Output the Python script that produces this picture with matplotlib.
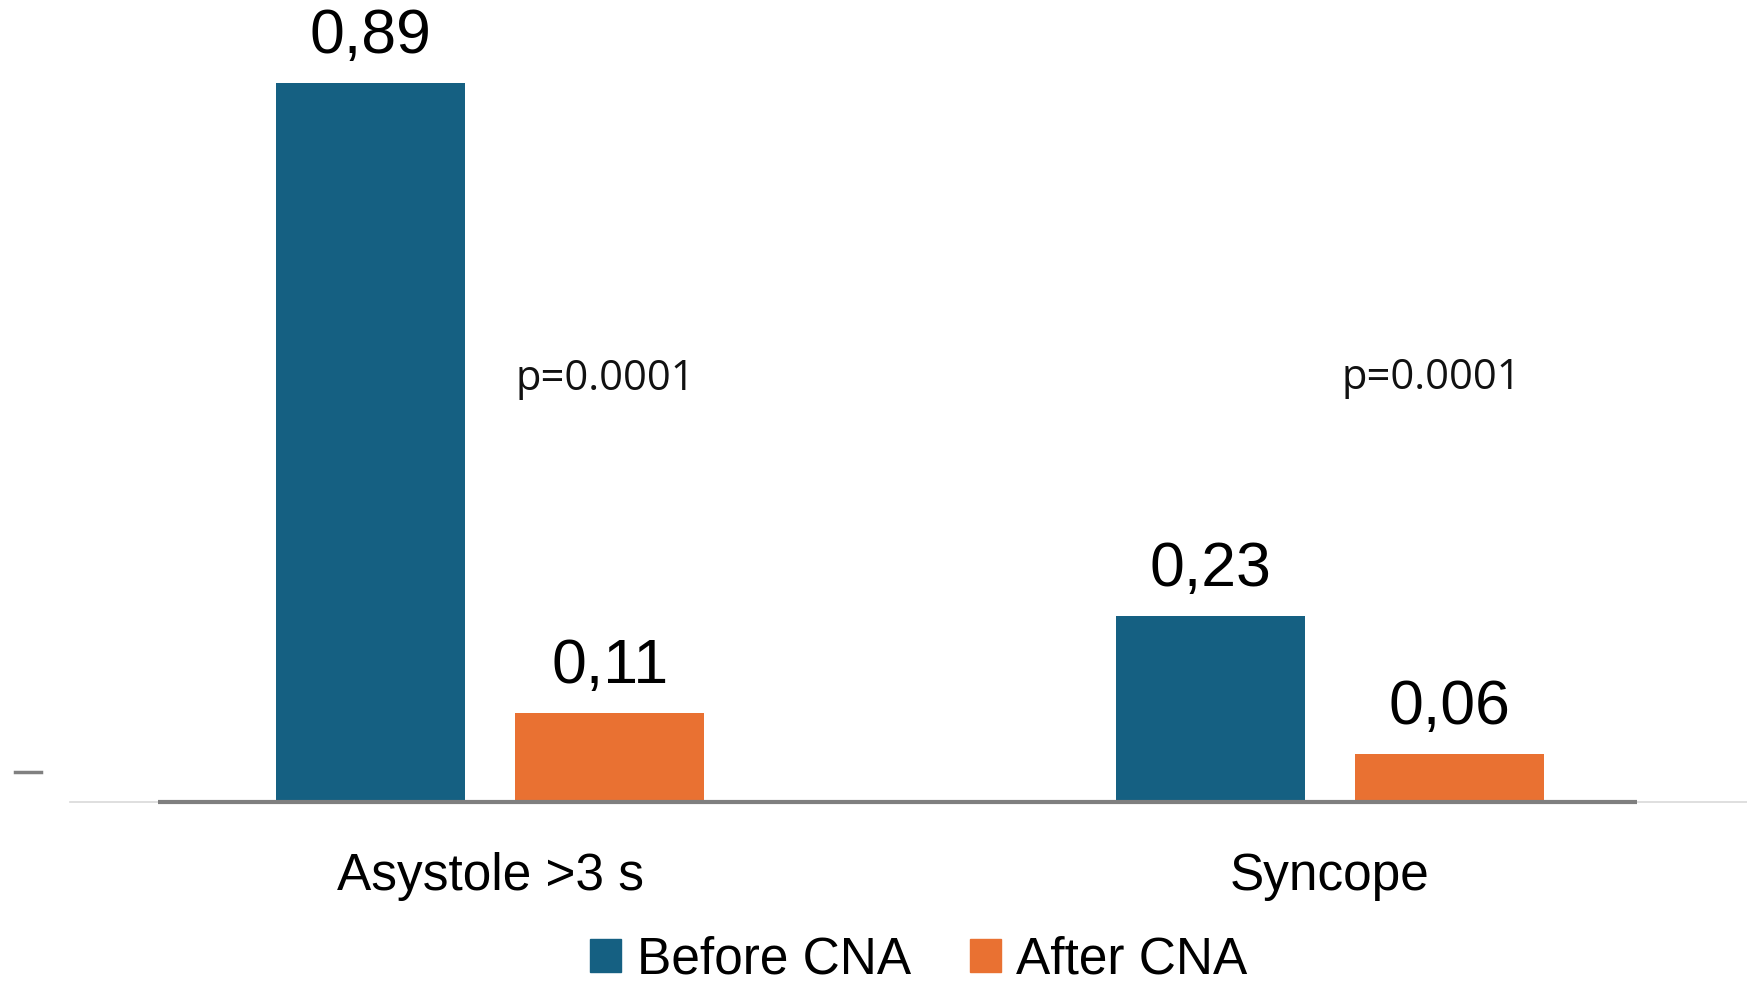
import numpy as np
import matplotlib
matplotlib.use("Agg")
import matplotlib.pyplot as plt
from matplotlib.lines import Line2D
from matplotlib.patches import Patch

# Event rates before/after cardioneuroablation
categories = ["Asystole >3 s", "Syncope"]
before_cna = [0.89, 0.23]
after_cna = [0.11, 0.06]
series_names = ["Before CNA", "After CNA"]
p_labels = ["p=0.0001", "p=0.0001"]

BLUE = "#156082"
ORANGE = "#E97132"

plt.rcParams["font.family"] = ["Liberation Sans", "DejaVu Sans"]

fig = plt.figure(figsize=(17.47, 9.84), dpi=100)
W, H = 1747, 984
ax = fig.add_axes([70 / W, 1 - 802 / H, 1680 / W, 802 / H])

x = np.arange(len(categories))
width = 0.225
offset = 0.1425

b1 = ax.bar(x - offset, before_cna, width, color=BLUE)
b2 = ax.bar(x + offset, after_cna, width, color=ORANGE)

fmt = lambda v: f"{v:.2f}".replace(".", ",")
for bars, vals in ((b1, before_cna), (b2, after_cna)):
    ax.bar_label(bars, labels=[fmt(v) for v in vals], padding=12,
                 fontsize=45, color="black")

# p-values between the bar pairs
p_pos = [(0.137, 0.524), (1.121, 0.525)]
for (px, py), txt in zip(p_pos, p_labels):
    ax.text(px, py, txt, ha="center", va="center", fontsize=30,
            family=["Open Sans", "DejaVu Sans"], color="#111111")

ax.set_xlim(-0.5, 1.5)
ax.set_ylim(0, 802 / 808)
ax.set_xticks(x)
ax.set_xticklabels(categories, fontsize=37)
ax.tick_params(axis="x", length=0, pad=36)
ax.set_yticks([])
for side in ("top", "right", "left"):
    ax.spines[side].set_visible(False)
ax.spines["bottom"].set_color("#d9d9d9")
ax.spines["bottom"].set_linewidth(1.2)

# darker category axis segment
ax.plot([-0.395, 1.365], [0, 0], color="#7f7f7f", lw=3, solid_capstyle="butt",
        clip_on=False, zorder=3)

# stray tick mark on the left edge
fig.add_artist(Line2D([15 / W, 41 / W], [1 - 772 / H, 1 - 772 / H],
                      color="#808080", lw=2.5))

handles = [Patch(color=BLUE), Patch(color=ORANGE)]
fig.legend(handles, series_names, loc="center", bbox_to_anchor=(919 / W, 1 - 960 / H),
           ncol=2, frameon=False, fontsize=37, handlelength=0.6, handleheight=0.6,
           handletextpad=0.3, columnspacing=1.16, borderpad=0.2)

fig.savefig("out.png", dpi=100)
